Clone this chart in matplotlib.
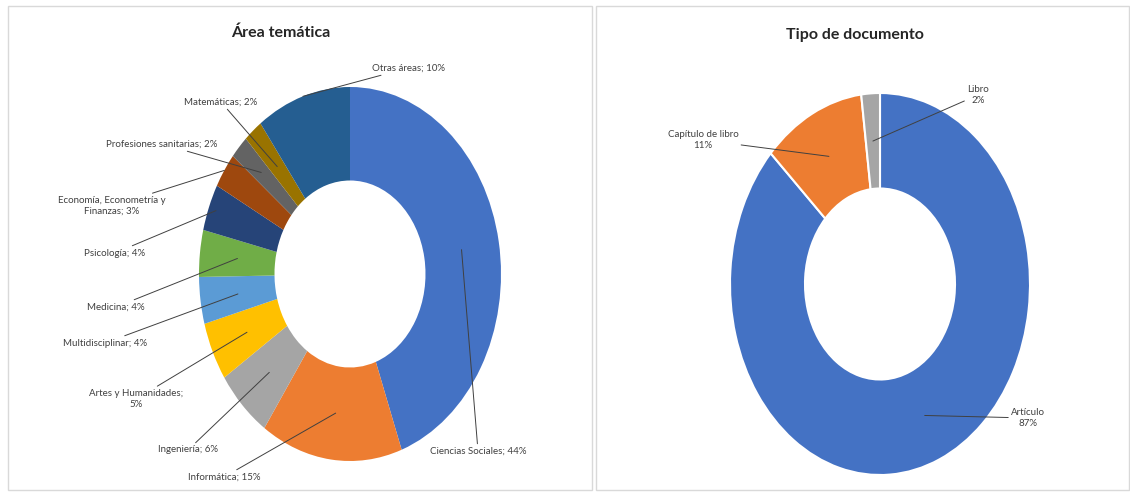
import numpy as np
import matplotlib
matplotlib.use("Agg")
import matplotlib.pyplot as plt
from matplotlib.patches import Rectangle

# datos
area_labels = ["Ciencias Sociales", "Informática", "Ingeniería", "Artes y Humanidades",
               "Multidisciplinar", "Medicina", "Psicología",
               "Economía, Econometría y\nFinanzas", "Profesiones sanitarias",
               "Matemáticas", "Otras áreas"]
area_values = [44, 15, 6, 5, 4, 4, 4, 3, 2, 2, 10]
area_sep = ["; ", "; ", "; ", ";\n", "; ", "; ", "; ", "; ", "; ", "; ", "; "]

tipo_labels = ["Artículo", "Capítulo de libro", "Libro"]
tipo_values = [87, 11, 2]

area_colors = ['#4472C4', '#ED7D31', '#A5A5A5', '#FFC000', '#5B9BD5', '#70AD47',
               '#264478', '#9E480E', '#636363', '#997300', '#255E91']
tipo_colors = ['#4472C4', '#ED7D31', '#A5A5A5']

# posiciones de etiquetas (pixeles, y desde arriba) y radio de la linea guia
area_text_pos = [(478, 451), (224, 477), (188, 450), (136, 399), (105, 343), (116, 307),
                 (115, 253), (112, 206), (162, 144), (221, 102), (408, 68)]
area_leader_r = [0.75, 0.75, 0.75, 0.75, 0.75, 0.75, 0.95, 1.0, 0.8, 0.75, 1.0]
tipo_text_pos = [(1028, 418), (703, 140), (978, 95)]
tipo_leader_r = [0.75, 0.75, 0.75]

W, H = 1130, 497
plt.rcParams['font.family'] = ['Lato', 'DejaVu Sans']

fig = plt.figure(figsize=(W / 100, H / 100), dpi=100)

# marcos de los dos graficos
for x0, x1 in [(8, 592), (596, 1129)]:
    fig.patches.append(Rectangle((x0, H - 490), x1 - x0, 484, transform=None,
                                 fill=False, edgecolor='#D9D9D9', lw=1))


def donut(center, rx, ry, values, colors, names, text_pos, leader_r, seps, edge, title, title_pos):
    cx, cy = center
    ax = fig.add_axes([(cx - rx) / W, (H - cy - ry) / H, 2 * rx / W, 2 * ry / H])
    wedges, _ = ax.pie(values, colors=colors, startangle=90, counterclock=False,
                       wedgeprops=dict(width=0.5, edgecolor=edge, linewidth=1.5 if edge != 'none' else 0))
    ax.set_aspect('auto')
    ax.set_xlim(-1, 1)
    ax.set_ylim(-1, 1)
    total = sum(values)
    for w, v, name, (tx, ty), r, sep in zip(wedges, values, names, text_pos, leader_r, seps):
        ang = np.deg2rad((w.theta1 + w.theta2) / 2)
        pct = round(100 * v / total)
        ax.annotate(f"{name}{sep}{pct}%", xy=(r * np.cos(ang), r * np.sin(ang)),
                    xytext=(tx, H - ty), textcoords='figure pixels',
                    ha='center', va='center', fontsize=7, color='#404040',
                    linespacing=1.3,
                    arrowprops=dict(arrowstyle='-', color='#404040', lw=0.7,
                                    shrinkA=0, shrinkB=0))
    fig.text(title_pos[0] / W, 1 - title_pos[1] / H, title, ha='center', va='center',
             fontsize=11.5, fontweight='bold', color='#262626')


donut((350, 274), 151, 187, area_values, area_colors, area_labels, area_text_pos,
      area_leader_r, area_sep, 'none', "Área temática", (281, 33))
donut((880, 284), 150, 191, tipo_values, tipo_colors, tipo_labels, tipo_text_pos,
      tipo_leader_r, ["\n"] * 3, 'white', "Tipo de documento", (855, 35))

fig.savefig("out.png", dpi=100)
